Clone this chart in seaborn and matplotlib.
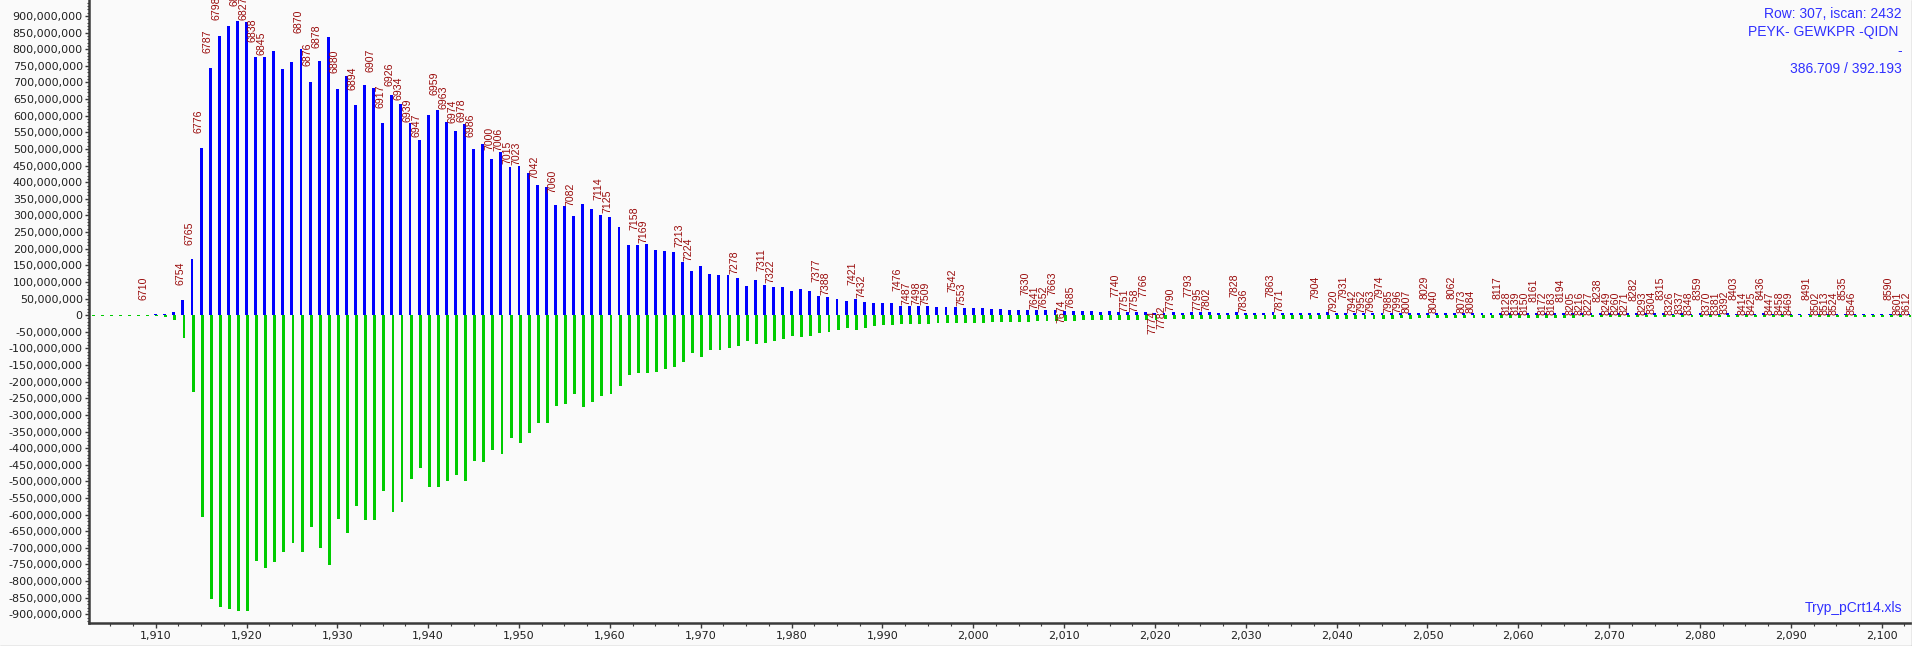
import numpy as np
import pandas as pd
import matplotlib
matplotlib.use("Agg")
import matplotlib.pyplot as plt
import seaborn as sns
from matplotlib.ticker import MultipleLocator, FuncFormatter
from matplotlib.lines import Line2D

# ---------------- data ----------------
first_mass = 1903
# positive (blue) intensities, millions, one per integer mass 1903..2103
blue_M = [
    0, 0, 0, 0, 0, 0, 0,
    3, 3, 11, 47, 170, 503, 743, 839, 870, 884,
    881, 778, 776, 795, 741, 762, 800, 701, 764, 837,
    680, 720, 632, 693, 682, 578, 661, 636, 578, 527,
    603, 617, 581, 554, 575, 500, 516, 469, 491, 446,
    450, 429, 393, 387, 332, 327, 297, 333, 319, 302,
    294, 265, 211, 212, 213, 195, 192, 189, 161, 134,
    147, 124, 121, 121, 111, 87, 106, 92, 84, 84,
    72, 78, 72, 59, 56, 48, 43, 48, 39, 37,
    36, 38, 28, 27, 27, 27, 25, 25, 24, 21,
    22, 22, 19, 19, 16, 16, 15, 15, 15, 15,
    14, 14, 12, 12, 9, 12, 9, 9, 9, 9,
    6, 6, 9, 6, 9, 9, 9, 6, 6, 9,
    6, 7, 7, 10, 6, 6, 6, 6, 6, 10,
    7, 6, 7, 6, 6, 6, 6, 7, 6, 6,
    6, 6, 6, 7, 6, 6, 6, 6, 6, 6,
    6, 5, 6, 6, 6, 5, 6, 6, 6, 5,
    6, 5, 5, 6, 5, 5, 5, 4, 5, 4,
    5, 4, 4, 5, 4, 4, 4, 5, 4, 4,
    4, 4, 4, 4, 4, 4, 4, 4, 4, 4,
    4, 4, 4, 4,
]
# negative (green) intensities, millions
green_M = [
    -3, -3, -3, -3, -3, -3, -3,
    -3, -6, -16, -68, -230, -606, -853, -877, -883, -889,
    -889, -739, -760, -742, -712, -685, -712, -636, -700, -751,
    -613, -654, -574, -616, -616, -529, -591, -562, -493, -460,
    -517, -517, -499, -481, -499, -439, -442, -406, -418, -370,
    -385, -355, -324, -324, -273, -267, -237, -276, -261, -243,
    -237, -213, -180, -174, -174, -171, -162, -156, -141, -114,
    -126, -105, -105, -99, -93, -78, -87, -84, -78, -72,
    -63, -66, -63, -54, -51, -45, -39, -45, -39, -33,
    -31, -31, -28, -28, -28, -26, -25, -25, -25, -23,
    -23, -23, -22, -21, -20, -21, -21, -19, -19, -19,
    -19, -17, -16, -15, -15, -16, -15, -14, -15, -15,
    -15, -13, -13, -13, -13, -13, -13, -13, -13, -13,
    -13, -12, -12, -11, -11, -11, -13, -11, -11, -11,
    -11, -11, -11, -11, -11, -11, -11, -10, -11, -10,
    -10, -10, -10, -10, -10, -9, -10, -9, -9, -9,
    -9, -8, -8, -8, -8, -8, -8, -7, -7, -7,
    -7, -7, -7, -6, -6, -6, -6, -6, -6, -6,
    -6, -5, -5, -5, -5, -5, -5, -5, -5, -5,
    -5, -5, -5, -5, -5, -5, -5, -5, -5, -5,
    -5, -5, -5, -5,
]

# peak annotations: text, mass of the annotated bar, lift above bar top (millions)
label_text = [
    "6710", "6754", "6765", "6776", "6787", "6798", "6816", "6827", "6838", "6845",
    "6870", "6876", "6878", "6880", "6894", "6907", "6917", "6926", "6934", "6939",
    "6947", "6959", "6963", "6974", "6978", "6986", "7000", "7006", "7015", "7023",
    "7042", "7060", "7082", "7114", "7125", "7158", "7169", "7213", "7224", "7278",
    "7311", "7322", "7377", "7388", "7421", "7432", "7476", "7487", "7498", "7509",
    "7542", "7553", "7630", "7641", "7652", "7663", "7674", "7685", "7740", "7751",
    "7758", "7766", "7774", "7782", "7790", "7793", "7795", "7802", "7828", "7836",
    "7863", "7871", "7904", "7920", "7931", "7942", "7952", "7963", "7974", "7985",
    "7996", "8007", "8029", "8040", "8062", "8073", "8084", "8117", "8128", "8139",
    "8150", "8161", "8172", "8183", "8194", "8205", "8216", "8227", "8238", "8249",
    "8260", "8271", "8282", "8293", "8304", "8315", "8326", "8337", "8348", "8359",
    "8370", "8381", "8392", "8403", "8414", "8425", "8436", "8447", "8458", "8469",
    "8491", "8502", "8513", "8524", "8535", "8546", "8590", "8601", "8612",
]
label_mass = [
    1909, 1913, 1914, 1915, 1916, 1917, 1919, 1920, 1921, 1922,
    1926, 1927, 1928, 1930, 1932, 1934, 1935, 1936, 1937, 1938,
    1939, 1941, 1942, 1943, 1944, 1945, 1947, 1948, 1949, 1950,
    1952, 1954, 1956, 1959, 1960, 1963, 1964, 1968, 1969, 1974,
    1977, 1978, 1983, 1984, 1987, 1988, 1992, 1993, 1994, 1995,
    1998, 1999, 2006, 2007, 2008, 2009, 2010, 2011, 2016, 2017,
    2018, 2019, 2020, 2021, 2022, 2024, 2025, 2026, 2029, 2030,
    2033, 2034, 2038, 2040, 2041, 2042, 2043, 2044, 2045, 2046,
    2047, 2048, 2050, 2051, 2053, 2054, 2055, 2058, 2059, 2060,
    2061, 2062, 2063, 2064, 2065, 2066, 2067, 2068, 2069, 2070,
    2071, 2072, 2073, 2074, 2075, 2076, 2077, 2078, 2079, 2080,
    2081, 2082, 2083, 2084, 2085, 2086, 2087, 2088, 2089, 2090,
    2092, 2093, 2094, 2095, 2096, 2097, 2101, 2102, 2103,
]
label_lift_M = [
    45, 45, 42, 45, 45, 48, 45, 6, 45, 6,
    48, 48, 39, 48, 45, 48, 45, 27, 12, 3,
    9, 45, 39, 24, 6, 36, 27, 3, 9, 3,
    18, 36, 30, 45, 12, 45, 3, 45, 30, 12,
    42, 12, 42, 6, 42, 12, 45, 3, 3, 3,
    45, 6, 45, 3, 3, 45, -39, 6, 45, 0,
    0, 45, -63, -48, 3, 45, 3, 3, 45, 3,
    45, 3, 42, 0, 42, 0, 0, 0, 42, 0,
    0, 0, 42, 0, 42, 0, 0, 42, -6, -6,
    -6, 33, -6, -6, 36, -6, -6, -6, 36, -6,
    -6, -6, 36, -6, -3, 42, -3, -3, -3, 42,
    -3, -3, -3, 42, -3, -3, 42, -3, -3, -3,
    42, -3, -3, -3, 42, -3, 42, -3, -3,
]

info_lines = ["Row: 307, iscan: 2432", "PEYK- GEWKPR -QIDN ", "-", "386.709 / 392.193"]
file_name = "Tryp_pCrt14.xls"

# ---------------- styling ----------------
BG = "#fafafa"
BLUE = "#0000ff"
GREEN = "#00cc00"
LABEL_RED = "#990a0a"
INFO_BLUE = "#3030ff"
AXIS_DARK = "#3a3a3a"

sns.set_theme(style="white")
plt.rcParams["font.family"] = ["DejaVu Sans"]

masses = np.arange(first_mass, first_mass + len(blue_M))
df_pos = pd.DataFrame({"mass": masses.astype(float), "intensity": np.array(blue_M) * 1e6})
df_neg = pd.DataFrame({"mass": masses + 0.12, "intensity": np.array(green_M) * 1e6})

W, H = 1912, 646
fig = plt.figure(figsize=(W / 100, H / 100), dpi=100, facecolor=BG)
ax = fig.add_axes([89 / W, 23 / H, (1911 - 89) / W, 623 / H])
ax.set_facecolor(BG)

sns.barplot(data=df_neg, x="mass", y="intensity", native_scale=True, color=GREEN,
            saturation=1, width=0.32, errorbar=None, linewidth=0, ax=ax)
sns.barplot(data=df_pos, x="mass", y="intensity", native_scale=True, color=BLUE,
            saturation=1, width=0.32, errorbar=None, linewidth=0, ax=ax)

ax.set_xlim(1902.66, 2103.23)
ax.set_ylim(-926e6, 948e6)
ax.set_xlabel("")
ax.set_ylabel("")

# annotations
blue_lookup = dict(zip(masses.tolist(), blue_M))
for t, m, lift in zip(label_text, label_mass, label_lift_M):
    yv = (blue_lookup[m] + lift) * 1e6
    ax.text(m - 0.3, yv, t, rotation=90, ha="center", va="bottom", fontsize=7.6,
            color=LABEL_RED, family=["Liberation Sans", "DejaVu Sans"], clip_on=True)

# axes / ticks
for s in ["top", "right"]:
    ax.spines[s].set_visible(False)
for s in ["left", "bottom"]:
    ax.spines[s].set_color(AXIS_DARK)
    ax.spines[s].set_linewidth(1.8)

ax.yaxis.set_major_locator(MultipleLocator(50e6))
ax.yaxis.set_minor_locator(MultipleLocator(10e6))
ax.yaxis.set_major_formatter(FuncFormatter(lambda v, p: f"{int(round(v)):,}"))
ax.xaxis.set_major_locator(MultipleLocator(10))
ax.xaxis.set_minor_locator(MultipleLocator(2.5))
ax.xaxis.set_major_formatter(FuncFormatter(lambda v, p: f"{int(round(v)):,}"))

ax.tick_params(axis="both", which="both", left=True, bottom=True, direction="out",
               color=AXIS_DARK, labelcolor="#202020", labelsize=8)
ax.tick_params(axis="y", which="major", length=3, width=1, pad=1.5)
ax.tick_params(axis="y", which="minor", length=1.5, width=0.8)
ax.tick_params(axis="x", which="major", length=3.5, width=1, pad=2.5)
ax.tick_params(axis="x", which="minor", length=2, width=0.8)
ax.grid(False)

# info text
info_y = [14, 32, 51, 69]
for line, yy in zip(info_lines, info_y):
    fig.text(1902 / W, 1 - yy / H, line, ha="right", va="center", fontsize=10,
             color=INFO_BLUE, family=["Liberation Sans", "DejaVu Sans"])
fig.text(1902 / W, 1 - 608 / H, file_name, ha="right", va="center", fontsize=10,
         color=INFO_BLUE, family=["Liberation Sans", "DejaVu Sans"])

# outer frame lines (right and bottom)
fig.add_artist(Line2D([1911.5 / W, 1911.5 / W], [0, 1], transform=fig.transFigure,
                      color="#a8a8a8", lw=1))
fig.add_artist(Line2D([0, 1], [0.5 / H, 0.5 / H], transform=fig.transFigure,
                      color="#a8a8a8", lw=1))

fig.savefig("out.png", dpi=100, facecolor=BG)
